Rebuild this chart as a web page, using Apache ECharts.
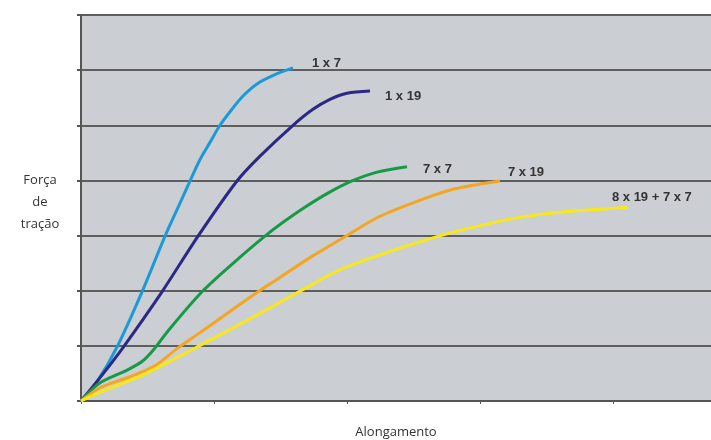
<!DOCTYPE html>
<html>
<head>
<meta charset="utf-8">
<script src="https://cdn.jsdelivr.net/npm/echarts@6/dist/echarts.min.js"></script>
<style>html,body{margin:0;padding:0;background:#fff;overflow:hidden;}#c{width:711px;height:440px;}</style>
</head>
<body>
<div id="c"></div>
<script>
const seriesNames = ['1 x 7', '1 x 19', '7 x 7', '7 x 19', '8 x 19 + 7 x 7'];
const data1x7 = [[0,0],[0.128,0.38],[0.271,0.98],[0.459,1.98],[0.632,2.99],[0.722,3.47],[0.82,3.99],[0.895,4.38],[0.97,4.69],[1.045,5.0],[1.135,5.29],[1.218,5.53],[1.323,5.75],[1.45,5.91],[1.594,6.04]];
const data1x19 = [[0,0],[0.158,0.47],[0.316,0.97],[0.609,1.98],[0.88,2.99],[1.173,3.99],[1.346,4.44],[1.594,5.0],[1.744,5.29],[1.872,5.47],[2.0,5.58],[2.173,5.62]];
const data7x7 = [[0,0],[0.143,0.33],[0.346,0.56],[0.466,0.73],[0.556,0.96],[0.654,1.27],[0.91,1.98],[1.173,2.56],[1.383,2.99],[1.496,3.2],[1.669,3.49],[1.85,3.76],[2.038,3.99],[2.226,4.15],[2.451,4.25]];
const data7x19 = [[0,0],[0.143,0.24],[0.368,0.44],[0.556,0.64],[0.722,0.95],[0.895,1.24],[1.331,1.98],[1.496,2.24],[1.722,2.6],[1.985,2.98],[2.248,3.35],[2.549,3.64],[2.797,3.84],[3.15,3.99]];
const data8x19 = [[0,0],[0.143,0.16],[0.444,0.45],[0.857,0.96],[1.323,1.56],[1.624,1.96],[1.947,2.38],[2.248,2.65],[2.677,2.98],[3.0,3.18],[3.301,3.33],[3.579,3.42],[4.105,3.51]];
const colors = ['#1c9ad8', '#2b2886', '#169a46', '#f6a51f', '#f7e918'];
const labelOffsets = [[19,-5],[15,5],[16,3],[8,-9],[-15,-10]];
const allData = [data1x7, data1x19, data7x7, data7x19, data8x19];
const yTitle = 'Força\nde\ntração';
const xTitle = 'Alongamento';

const chart = echarts.init(document.getElementById('c'), null, {renderer: 'canvas'});
chart.setOption({
  animation: false,
  graphic: [{
    type: 'text', x: 40, y: 202,
    style: {text: yTitle, fill: '#333', font: '13px "Open Sans"', lineHeight: 22, align: 'center', verticalAlign: 'middle'}
  }],
  grid: {left: 81, right: 0, top: 15, bottom: 39, show: true, backgroundColor: '#cbced2', borderWidth: 0, outerBoundsMode: 'none'},
  xAxis: {
    type: 'value', min: 0, max: 4.737, interval: 1,
    name: xTitle, nameLocation: 'middle', nameGap: 25,
    nameTextStyle: {fontFamily: 'Open Sans', fontSize: 13, color: '#333'},
    axisLine: {show: true, lineStyle: {color: '#555', width: 2}},
    axisTick: {show: true, length: 3, lineStyle: {color: '#555', width: 1}},
    axisLabel: {show: false},
    splitLine: {show: false}
  },
  yAxis: {
    type: 'value', min: 0, max: 7, interval: 1,
    axisLine: {show: true, lineStyle: {color: '#555', width: 2}},
    axisTick: {show: true, length: 4, lineStyle: {color: '#555', width: 2}},
    axisLabel: {show: false},
    splitLine: {show: true, lineStyle: {color: '#5e5e5e', width: 2}}
  },
  series: allData.map((d, i) => ({
    name: seriesNames[i],
    type: 'line',
    data: d,
    smooth: 0.3,
    showSymbol: false,
    lineStyle: {color: colors[i], width: 3},
    endLabel: {
      show: true,
      formatter: seriesNames[i],
      distance: 0,
      offset: labelOffsets[i],
      align: 'left',
      fontFamily: 'Liberation Sans',
      fontWeight: 'bold',
      fontSize: 13,
      color: '#333'
    }
  }))
});
</script>
</body>
</html>
